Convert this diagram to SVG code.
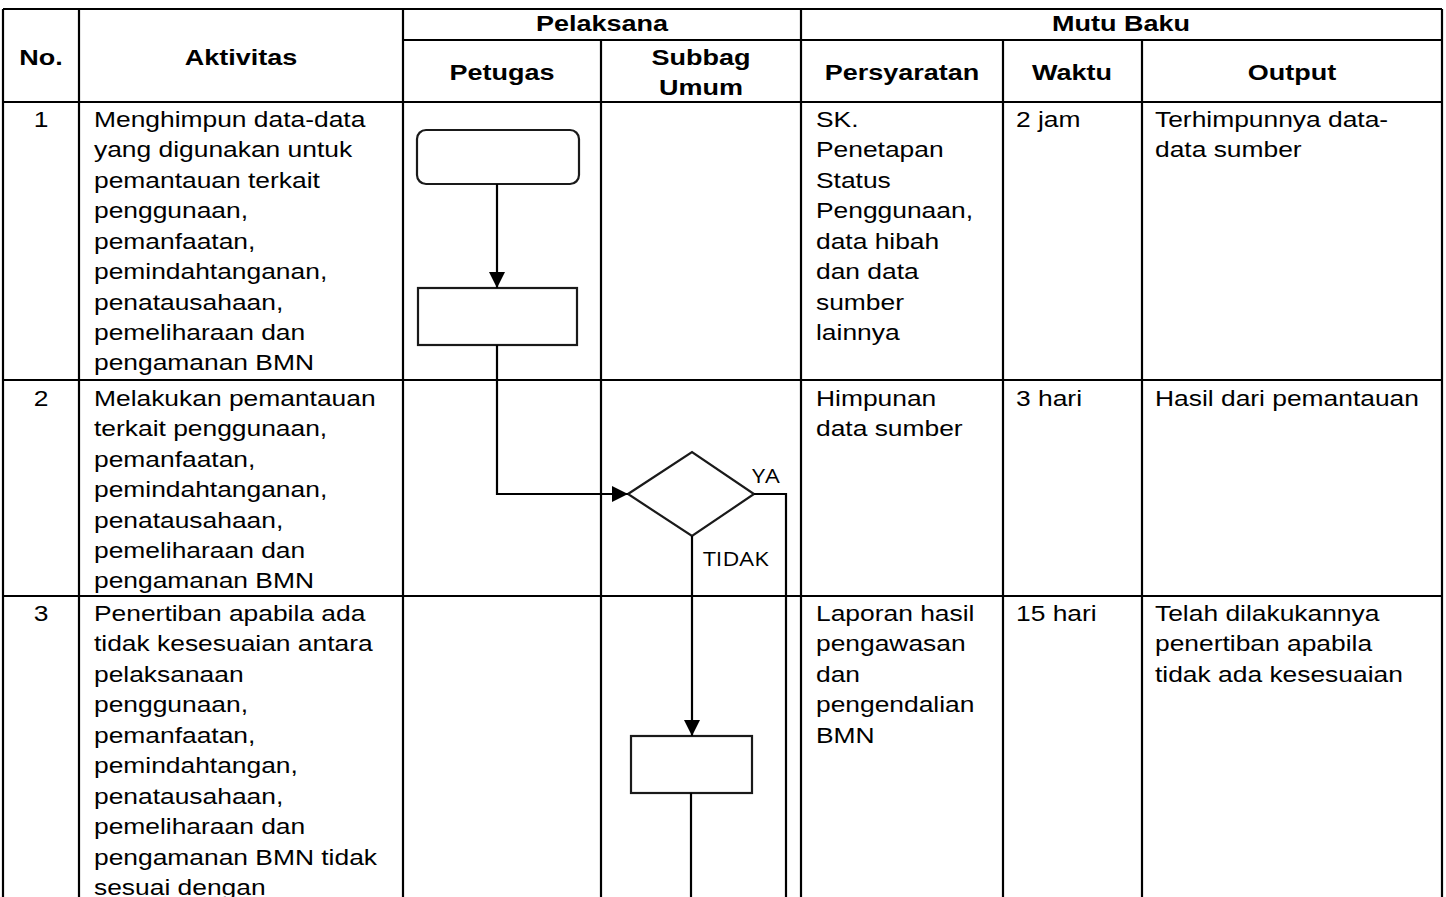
<svg xmlns="http://www.w3.org/2000/svg" width="1446" height="897" viewBox="0 0 1446 897">
<style>
.grid{stroke:#000;stroke-width:2.2;fill:none}
.shape{stroke:#1a1a1a;stroke-width:2.2;fill:#fff}
.conn{stroke:#000;stroke-width:2.2;fill:none}
.h{font-family:"Liberation Sans",Arial,sans-serif;font-weight:bold;font-size:22.5px;fill:#000;text-anchor:middle}
.t{font-family:"Liberation Sans",Arial,sans-serif;font-size:22px;fill:#000}
.n{text-anchor:middle}
.lbl{font-family:"Open Sans","Noto Sans",sans-serif;font-size:19.5px;fill:#000}
</style>
<defs>
<marker id="arr" markerUnits="userSpaceOnUse" markerWidth="17" markerHeight="16" refX="16" refY="8" orient="auto">
<path d="M0,0 L16,8 L0,16 Z" fill="#000"/>
</marker>
</defs>
<rect width="1446" height="897" fill="#fff"/>
<g id="table">
<path class="grid" d="M3,9 H1442 M403,40 H1442 M3,102 H1442 M3,380 H1442 M3,596 H1442 M3,9 V897 M79,9 V897 M403,9 V897 M601,40 V897 M801,9 V897 M1003,40 V897 M1142,40 V897 M1442,9 V897"/>
</g>
<g id="texts" transform="scale(1.2,1)">
<text class="h" x="501.67" y="31">Pelaksana</text>
<text class="h" x="934.17" y="31">Mutu Baku</text>
<text class="h" x="34.17" y="65">No.</text>
<text class="h" x="200.83" y="65">Aktivitas</text>
<text class="h" x="418.33" y="80">Petugas</text>
<text class="h" x="584.17" y="65">Subbag</text>
<text class="h" x="584.17" y="95">Umum</text>
<text class="h" x="751.67" y="80">Persyaratan</text>
<text class="h" x="893.33" y="80">Waktu</text>
<text class="h" x="1076.67" y="80">Output</text>

<text class="t n" x="34.17" y="127">1</text>
<text class="t" x="78.33" y="127"><tspan x="78.33">Menghimpun data-data</tspan><tspan x="78.33" dy="30.5">yang digunakan untuk</tspan><tspan x="78.33" dy="30.5">pemantauan terkait</tspan><tspan x="78.33" dy="30.5">penggunaan,</tspan><tspan x="78.33" dy="30.5">pemanfaatan,</tspan><tspan x="78.33" dy="30.5">pemindahtanganan,</tspan><tspan x="78.33" dy="30.5">penatausahaan,</tspan><tspan x="78.33" dy="30.5">pemeliharaan dan</tspan><tspan x="78.33" dy="30">pengamanan BMN</tspan></text>
<text class="t" x="680" y="127"><tspan x="680">SK.</tspan><tspan x="680" dy="30.5">Penetapan</tspan><tspan x="680" dy="30.5">Status</tspan><tspan x="680" dy="30.5">Penggunaan,</tspan><tspan x="680" dy="30.5">data hibah</tspan><tspan x="680" dy="30.5">dan data</tspan><tspan x="680" dy="30.5">sumber</tspan><tspan x="680" dy="30.5">lainnya</tspan></text>
<text class="t" x="846.67" y="127">2 jam</text>
<text class="t" x="962.5" y="127"><tspan x="962.5">Terhimpunnya data-</tspan><tspan x="962.5" dy="30.5">data sumber</tspan></text>

<text class="t n" x="34.17" y="406">2</text>
<text class="t" x="78.33" y="406"><tspan x="78.33">Melakukan pemantauan</tspan><tspan x="78.33" dy="30.5">terkait penggunaan,</tspan><tspan x="78.33" dy="30.5">pemanfaatan,</tspan><tspan x="78.33" dy="30.5">pemindahtanganan,</tspan><tspan x="78.33" dy="30.5">penatausahaan,</tspan><tspan x="78.33" dy="30.5">pemeliharaan dan</tspan><tspan x="78.33" dy="30">pengamanan BMN</tspan></text>
<text class="t" x="680" y="406"><tspan x="680">Himpunan</tspan><tspan x="680" dy="30.5">data sumber</tspan></text>
<text class="t" x="846.67" y="406">3 hari</text>
<text class="t" x="962.5" y="406">Hasil dari pemantauan</text>

<text class="t n" x="34.17" y="621">3</text>
<text class="t" x="78.33" y="621"><tspan x="78.33">Penertiban apabila ada</tspan><tspan x="78.33" dy="30.5">tidak kesesuaian antara</tspan><tspan x="78.33" dy="30.5">pelaksanaan</tspan><tspan x="78.33" dy="30.5">penggunaan,</tspan><tspan x="78.33" dy="30.5">pemanfaatan,</tspan><tspan x="78.33" dy="30.5">pemindahtangan,</tspan><tspan x="78.33" dy="30.5">penatausahaan,</tspan><tspan x="78.33" dy="30.5">pemeliharaan dan</tspan><tspan x="78.33" dy="30.5">pengamanan BMN tidak</tspan><tspan x="78.33" dy="30.5">sesuai dengan</tspan></text>
<text class="t" x="680" y="621"><tspan x="680">Laporan hasil</tspan><tspan x="680" dy="30.5">pengawasan</tspan><tspan x="680" dy="30.5">dan</tspan><tspan x="680" dy="30.5">pengendalian</tspan><tspan x="680" dy="30.5">BMN</tspan></text>
<text class="t" x="846.67" y="621">15 hari</text>
<text class="t" x="962.5" y="621"><tspan x="962.5">Telah dilakukannya</tspan><tspan x="962.5" dy="30.5">penertiban apabila</tspan><tspan x="962.5" dy="30.5">tidak ada kesesuaian</tspan></text>

<text class="lbl" x="626.67" y="483">YA</text>
<text class="lbl" x="585.83" y="566">TIDAK</text>
</g>
<g id="node-start"><rect class="shape" x="417" y="130" width="162" height="54" rx="9"/></g>
<g id="node-process1"><rect class="shape" x="418" y="288" width="159" height="57"/></g>
<g id="node-decision"><polygon class="shape" points="628,494 692,452 754,494 692,536"/></g>
<g id="node-process2"><rect class="shape" x="631" y="736" width="121" height="57"/></g>
<g id="connectors">
<path class="conn" d="M497,184 V288" marker-end="url(#arr)"/>
<path class="conn" d="M497,345 V494 H628" marker-end="url(#arr)"/>
<path class="conn" d="M692,536 V736" marker-end="url(#arr)"/>
<path class="conn" d="M754,494 H786 V897"/>
<path class="conn" d="M691,793 V897"/>
</g>
</svg>
